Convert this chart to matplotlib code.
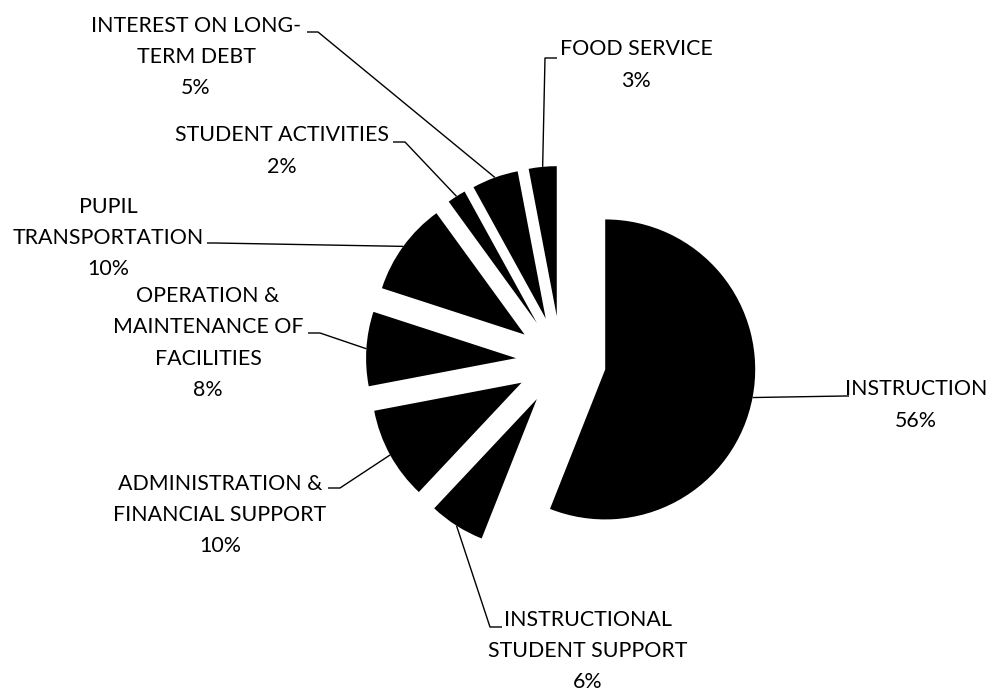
import matplotlib
matplotlib.use("Agg")
import matplotlib.pyplot as plt
import numpy as np

# ---------------- data ----------------
categories = [
    "INSTRUCTION",
    "INSTRUCTIONAL\nSTUDENT SUPPORT",
    "ADMINISTRATION &\nFINANCIAL SUPPORT",
    "OPERATION &\nMAINTENANCE OF\nFACILITIES",
    "PUPIL\nTRANSPORTATION",
    "STUDENT ACTIVITIES",
    "INTEREST ON LONG-\nTERM DEBT",
    "FOOD SERVICE",
]
values = [56, 6, 10, 8, 10, 2, 5, 3]

# ---------------- layout (pixel coords, y down) ----------------
W, H = 990, 694
PIE_CENTER = (561, 361)
PIE_RADIUS = 150
EXPLODE = 45

# text block centre, leader elbow, leader end (next to text)
label_pos = [(916, 405), (588, 651), (220, 515), (208, 343),
             (108, 238), (282, 151), (196, 57), (636, 65)]
leader_elbow = [(845, 396), (490, 627), (340, 488), (320, 333),
                (215, 243), (405, 142), (318, 32), (545, 58)]
leader_end = [(849, 396), (502, 627), (328, 488), (308, 333),
              (207, 243), (393, 142), (307, 32), (557, 58)]

FONT = ["Lato", "DejaVu Sans"]
FONT_SIZE = 15.4
LINE_SPACING = 1.7


def px(p):
    return (p[0], H - p[1])


fig = plt.figure(figsize=(W / 100, H / 100), dpi=100)
ax = fig.add_axes([0, 0, 1, 1])

wedges, _ = ax.pie(values, explode=[EXPLODE] * len(values), radius=PIE_RADIUS,
                   center=px(PIE_CENTER), startangle=90, counterclock=False,
                   colors=["black"] * len(values),
                   wedgeprops=dict(linewidth=0))

ax.set_xlim(0, W)
ax.set_ylim(0, H)
ax.set_aspect("equal")
ax.axis("off")

for w, cat, v, lp, el, en in zip(wedges, categories, values, label_pos,
                                 leader_elbow, leader_end):
    mid = np.deg2rad(0.5 * (w.theta1 + w.theta2))
    cx, cy = w.center
    ox = cx + w.r * np.cos(mid)
    oy = cy + w.r * np.sin(mid)
    e1 = px(el)
    e2 = px(en)
    ax.plot([ox, e1[0], e2[0]], [oy, e1[1], e2[1]], color="black", lw=1.0,
            solid_capstyle="butt")
    tx, ty = px(lp)
    ax.text(tx, ty, f"{cat}\n{v}%", ha="center", va="center",
            multialignment="center", family=FONT, fontsize=FONT_SIZE,
            linespacing=LINE_SPACING, color="black")

fig.savefig("out.png", dpi=100, facecolor="white")
